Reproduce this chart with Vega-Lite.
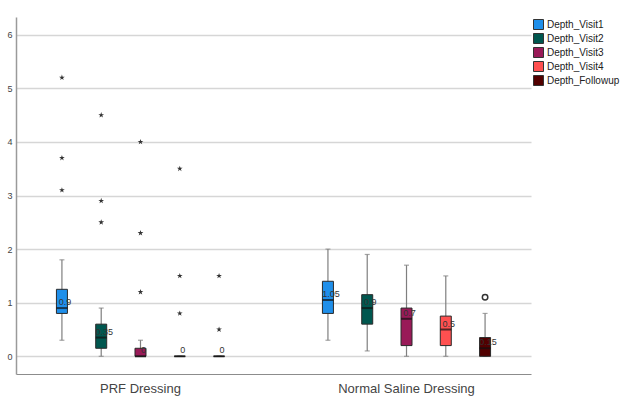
{
  "$schema": "https://vega.github.io/schema/vega-lite/v6.json",
  "width": 515,
  "height": 357,
  "autosize": {"type": "none"},
  "padding": {"left": 16, "top": 17, "right": 92, "bottom": 27},
  "background": "white",
  "config": {
    "view": {"stroke": null},
    "font": "Liberation Sans"
  },
  "datasets": {
    "boxes": [
      {"group": "PRF Dressing", "series": "Depth_Visit1", "lo": 0.3, "q1": 0.8, "med": 0.9, "q3": 1.25, "hi": 1.8, "label": "0.9"},
      {"group": "PRF Dressing", "series": "Depth_Visit2", "lo": 0.0, "q1": 0.15, "med": 0.35, "q3": 0.6, "hi": 0.9, "label": "0.35"},
      {"group": "PRF Dressing", "series": "Depth_Visit3", "lo": 0.0, "q1": 0.0, "med": 0.0, "q3": 0.15, "hi": 0.3, "label": "0"},
      {"group": "PRF Dressing", "series": "Depth_Visit4", "lo": 0.0, "q1": 0.0, "med": 0.0, "q3": 0.0, "hi": 0.0, "label": "0"},
      {"group": "PRF Dressing", "series": "Depth_Followup", "lo": 0.0, "q1": 0.0, "med": 0.0, "q3": 0.0, "hi": 0.0, "label": "0"},
      {"group": "Normal Saline Dressing", "series": "Depth_Visit1", "lo": 0.3, "q1": 0.8, "med": 1.05, "q3": 1.4, "hi": 2.0, "label": "1.05"},
      {"group": "Normal Saline Dressing", "series": "Depth_Visit2", "lo": 0.1, "q1": 0.6, "med": 0.9, "q3": 1.15, "hi": 1.9, "label": "0.9"},
      {"group": "Normal Saline Dressing", "series": "Depth_Visit3", "lo": 0.0, "q1": 0.2, "med": 0.7, "q3": 0.9, "hi": 1.7, "label": "0.7"},
      {"group": "Normal Saline Dressing", "series": "Depth_Visit4", "lo": 0.0, "q1": 0.2, "med": 0.5, "q3": 0.75, "hi": 1.5, "label": "0.5"},
      {"group": "Normal Saline Dressing", "series": "Depth_Followup", "lo": 0.0, "q1": 0.0, "med": 0.15, "q3": 0.35, "hi": 0.8, "label": "0.15"}
    ],
    "outliers": [
      {"group": "PRF Dressing", "series": "Depth_Visit1", "value": 5.2, "type": "extreme"},
      {"group": "PRF Dressing", "series": "Depth_Visit1", "value": 3.7, "type": "extreme"},
      {"group": "PRF Dressing", "series": "Depth_Visit1", "value": 3.1, "type": "extreme"},
      {"group": "PRF Dressing", "series": "Depth_Visit2", "value": 4.5, "type": "extreme"},
      {"group": "PRF Dressing", "series": "Depth_Visit2", "value": 2.9, "type": "extreme"},
      {"group": "PRF Dressing", "series": "Depth_Visit2", "value": 2.5, "type": "extreme"},
      {"group": "PRF Dressing", "series": "Depth_Visit3", "value": 4.0, "type": "extreme"},
      {"group": "PRF Dressing", "series": "Depth_Visit3", "value": 2.3, "type": "extreme"},
      {"group": "PRF Dressing", "series": "Depth_Visit3", "value": 1.2, "type": "extreme"},
      {"group": "PRF Dressing", "series": "Depth_Visit4", "value": 3.5, "type": "extreme"},
      {"group": "PRF Dressing", "series": "Depth_Visit4", "value": 1.5, "type": "extreme"},
      {"group": "PRF Dressing", "series": "Depth_Visit4", "value": 0.8, "type": "extreme"},
      {"group": "PRF Dressing", "series": "Depth_Followup", "value": 1.5, "type": "extreme"},
      {"group": "PRF Dressing", "series": "Depth_Followup", "value": 0.5, "type": "extreme"},
      {"group": "Normal Saline Dressing", "series": "Depth_Followup", "value": 1.1, "type": "mild"}
    ]
  },
  "encoding": {
    "x": {
      "field": "group", "type": "nominal",
      "sort": ["PRF Dressing", "Normal Saline Dressing"],
      "scale": {"paddingInner": 0.3, "paddingOuter": 0.118},
      "axis": {
        "title": null, "labelAngle": 0, "ticks": false, "grid": false,
        "domainColor": "#8c8c8c", "domainWidth": 1.2,
        "labelFontSize": 13, "labelColor": "#444444", "labelPadding": 8
      }
    },
    "xOffset": {
      "field": "series", "type": "nominal",
      "sort": ["Depth_Visit1", "Depth_Visit2", "Depth_Visit3", "Depth_Visit4", "Depth_Followup"],
      "scale": {"paddingInner": 0.26, "paddingOuter": 0}
    }
  },
  "layer": [
    {
      "data": {"name": "boxes"},
      "mark": {"type": "rule", "color": "#7f7f7f", "strokeWidth": 1.2},
      "encoding": {
        "y": {
          "field": "lo", "type": "quantitative",
          "scale": {"domain": [-0.33, 6.33], "nice": false, "zero": false},
          "axis": {
            "title": null, "values": [0, 1, 2, 3, 4, 5, 6], "ticks": false,
            "grid": true, "gridColor": "#d6d6d6", "gridWidth": 1.3,
            "domainColor": "#9a9a9a", "domainWidth": 1.5,
            "labelFontSize": 9, "labelColor": "#444444", "labelPadding": 4
          }
        },
        "y2": {"field": "hi"}
      }
    },
    {
      "data": {"name": "boxes"},
      "mark": {"type": "tick", "color": "#7f7f7f", "size": 5, "thickness": 1.2, "orient": "horizontal"},
      "encoding": {"y": {"field": "lo", "type": "quantitative"}}
    },
    {
      "data": {"name": "boxes"},
      "mark": {"type": "tick", "color": "#7f7f7f", "size": 5, "thickness": 1.2, "orient": "horizontal"},
      "encoding": {"y": {"field": "hi", "type": "quantitative"}}
    },
    {
      "data": {"name": "boxes"},
      "mark": {"type": "bar", "width": 11, "stroke": "#2a2a2a", "strokeWidth": 1},
      "encoding": {
        "y": {"field": "q1", "type": "quantitative"},
        "y2": {"field": "q3"},
        "color": {
          "field": "series", "type": "nominal",
          "sort": ["Depth_Visit1", "Depth_Visit2", "Depth_Visit3", "Depth_Visit4", "Depth_Followup"],
          "scale": {
            "domain": ["Depth_Visit1", "Depth_Visit2", "Depth_Visit3", "Depth_Visit4", "Depth_Followup"],
            "range": ["#1f8fea", "#00574f", "#991a58", "#ff5050", "#520000"]
          },
          "legend": {
            "title": null, "orient": "none", "legendX": 517, "legendY": 2,
            "symbolType": "square", "symbolSize": 100, "symbolStrokeColor": "#333333",
            "symbolStrokeWidth": 1, "symbolOpacity": 1,
            "labelFontSize": 10, "labelColor": "#222222", "labelOffset": 3,
            "rowPadding": -1
          }
        }
      }
    },
    {
      "data": {"name": "boxes"},
      "mark": {"type": "tick", "color": "#111111", "size": 11, "thickness": 2, "orient": "horizontal"},
      "encoding": {"y": {"field": "med", "type": "quantitative"}}
    },
    {
      "data": {"name": "boxes"},
      "mark": {"type": "text", "fontSize": 9, "color": "#333333", "align": "center", "baseline": "middle", "dx": 3, "dy": -6},
      "encoding": {
        "y": {"field": "med", "type": "quantitative"},
        "text": {"field": "label"}
      }
    },
    {
      "data": {"name": "outliers"},
      "transform": [{"filter": "datum.type === 'extreme'"}],
      "mark": {
        "type": "point", "filled": true, "size": 36, "color": "#333333", "opacity": 1,
        "shape": "M0,-1L0.2245,-0.309L0.951,-0.309L0.363,0.118L0.588,0.809L0,0.382L-0.588,0.809L-0.363,0.118L-0.951,-0.309L-0.2245,-0.309Z"
      },
      "encoding": {"y": {"field": "value", "type": "quantitative"}}
    },
    {
      "data": {"name": "outliers"},
      "transform": [{"filter": "datum.type === 'mild'"}],
      "mark": {"type": "point", "filled": false, "size": 30, "color": "#333333", "strokeWidth": 1.5, "opacity": 1, "shape": "circle"},
      "encoding": {"y": {"field": "value", "type": "quantitative"}}
    }
  ]
}
